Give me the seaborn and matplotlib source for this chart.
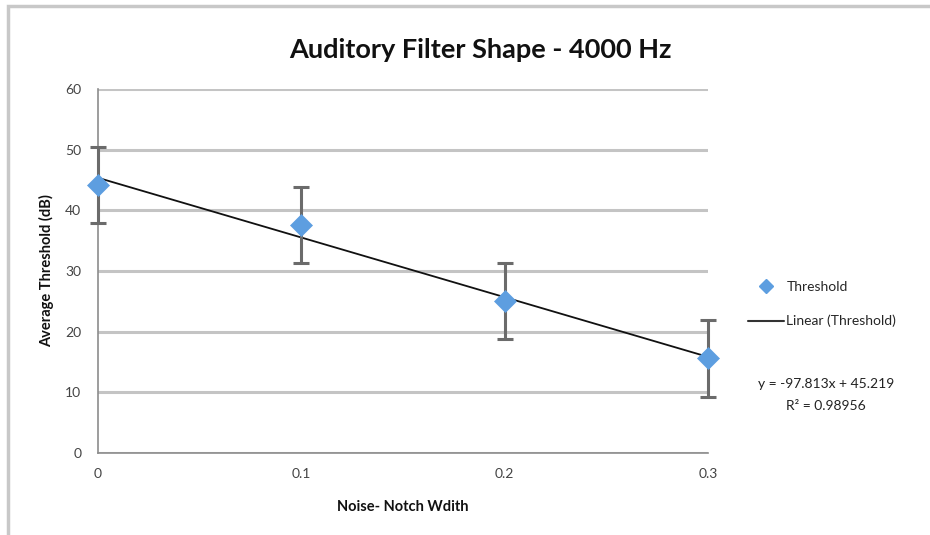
import matplotlib
matplotlib.use("Agg")
import matplotlib.pyplot as plt
from matplotlib.lines import Line2D
from matplotlib.patches import Rectangle
import seaborn as sns
import pandas as pd

noise_width = [0.0, 0.1, 0.2, 0.3]
threshold = [44.2, 37.6, 25.0, 15.6]
threshold_err = [6.3, 6.3, 6.25, 6.3]
x_ticks = [0, 0.1, 0.2, 0.3]
x_tick_labels = ["0", "0.1", "0.2", "0.3"]
y_ticks = [0, 10, 20, 30, 40, 50, 60]
title = "Auditory Filter Shape - 4000 Hz"
x_label = "Noise- Notch Wdith"
y_label = "Average Threshold (dB)"
series_label = "Threshold"
trend_label = "Linear (Threshold)"
equation_text = "y = -97.813x + 45.219"
r2_text = "R² = 0.98956"

sns.set_theme(style="white")
plt.rcParams["font.family"] = ["Lato", "DejaVu Sans"]

df = pd.DataFrame({"x": noise_width, "y": threshold, "err": threshold_err})

fig = plt.figure(figsize=(9.3, 5.35), dpi=100)
ax = fig.add_axes([98 / 930, 1 - 453 / 535, (708 - 98) / 930, (453 - 89) / 535])

# outer chart border
fig.patches.append(Rectangle((8 / 930, -0.05), 1.2, 1 - 6 / 535 + 0.05,
                             transform=fig.transFigure, fill=False,
                             edgecolor="#c8c8c8", linewidth=2.5, zorder=0))

ax.set_xlim(0, 0.3)
ax.set_ylim(0, 60)
ax.set_yticks(y_ticks)
ax.set_xticks(x_ticks)
ax.set_xticklabels(x_tick_labels)
ax.yaxis.grid(True, color="#c4c4c4", linewidth=2.2)
ax.xaxis.grid(False)
ax.set_axisbelow(True)
for s in ["top", "right"]:
    ax.spines[s].set_visible(False)
for s in ["left", "bottom"]:
    ax.spines[s].set_color("#8c8c8c")
    ax.spines[s].set_linewidth(1.2)
ax.tick_params(axis="both", colors="#8c8c8c", length=5, width=1.2, direction="inout",
               labelsize=10, labelcolor="#444444", pad=8)
ax.tick_params(axis="y", direction="out", length=6, pad=6)

# trendline
sns.regplot(data=df, x="x", y="y", scatter=False, ci=None, truncate=True, ax=ax,
            line_kws={"color": "#111111", "linewidth": 1.3, "zorder": 3, "clip_on": False})

# error bars
ax.errorbar(df["x"], df["y"], yerr=df["err"], fmt="none", ecolor="#6b6b6b",
            elinewidth=2.2, capsize=6, capthick=2.2, zorder=4, clip_on=False)

# points
sns.scatterplot(data=df, x="x", y="y", marker="D", s=125, color="#5d9ee0",
                edgecolor="#5d9ee0", linewidth=0.5, ax=ax, zorder=5, clip_on=False,
                legend=False)

ax.set_xlabel(x_label, fontsize=10.5, fontweight="bold", color="#111111", labelpad=15)
ax.set_ylabel(y_label, fontsize=10.5, fontweight="bold", color="#111111", labelpad=8)
fig.text(480 / 930, 1 - 50 / 535, title, fontsize=19.5, ha="center", va="center",
         color="#111111", fontweight="bold")

handles = [
    Line2D([], [], marker="D", color="#5d9ee0", linestyle="none", markersize=7),
    Line2D([], [], color="#333333", linewidth=1.5),
]
fig.legend(handles, [series_label, trend_label], loc="center left",
           bbox_to_anchor=(735 / 930, 1 - 304 / 535), frameon=False, fontsize=10,
           handlelength=2.6, handletextpad=0.2, labelspacing=1.6)

fig.text(826 / 930, 1 - 384 / 535, equation_text, fontsize=10, ha="center",
         va="center", color="#222222")
fig.text(826 / 930, 1 - 406 / 535, r2_text, fontsize=10, ha="center",
         va="center", color="#222222")

fig.savefig("out.png", dpi=100)
